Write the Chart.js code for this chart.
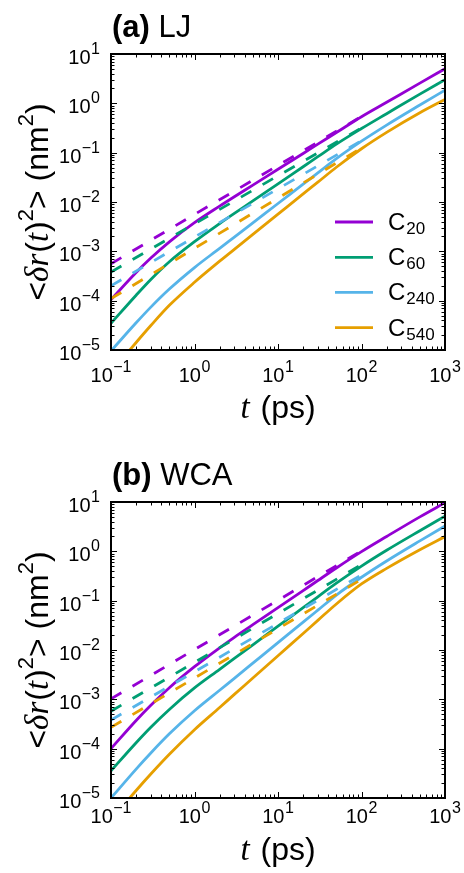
<!DOCTYPE html>
<html>
<head>
<meta charset="utf-8">
<script src="https://cdn.jsdelivr.net/npm/chart.js@4.4.0/dist/chart.umd.min.js"></script>
<style>
  html, body { margin: 0; padding: 0; background: #ffffff; }
  #wrap { position: relative; width: 464px; height: 873px; overflow: hidden; background: #ffffff; }
  canvas { position: absolute; left: 0; }
</style>
</head>
<body>
<div id="wrap">
  <canvas id="panelA" width="464" height="436" style="top:0px"></canvas>
  <canvas id="panelB" width="464" height="437" style="top:436px"></canvas>
</div>
<script>
// Lag times (ps) for the solid MSD curves
const timePs = [0.1, 0.2, 0.3, 0.5, 1, 2, 3, 5, 10, 20, 30, 50, 100, 200, 500, 1000];
// Lag times (ps) for the dashed diffusive lines
const timeDash = [0.1, 1, 10, 120];

// (a) LJ : <dr(t)^2> in nm^2
const ljC20  = [1.05e-4, 3.72e-4, 7.3e-4, 1.56e-3, 3.8e-3, 8.26e-3, 1.28e-2, 2.2e-2, 4.61e-2, 9.64e-2, 0.149, 0.256, 0.535, 1.05, 2.57, 5.01];
const ljC60  = [3.47e-5, 1.29e-4, 2.69e-4, 6.15e-4, 1.57e-3, 3.65e-3, 5.86e-3, 1.05e-2, 2.34e-2, 5.19e-2, 8.28e-2, 0.149, 0.308, 0.617, 1.54, 3.02];
const ljC240 = [9.55e-6, 3.56e-5, 7.4e-5, 1.72e-4, 4.69e-4, 1.15e-3, 1.95e-3, 3.79e-3, 9.33e-3, 2.3e-2, 3.89e-2, 7.57e-2, 0.171, 0.362, 0.923, 1.85];
const ljC540 = [3.55e-6, 1.42e-5, 3.13e-5, 8.05e-5, 2.36e-4, 6.31e-4, 1.1e-3, 2.21e-3, 5.68e-3, 1.46e-2, 2.52e-2, 5.06e-2, 0.12, 0.258, 0.644, 1.2];
const ljDashC20  = [5.6e-4, 5.6e-3, 5.5e-2, 0.65];
const ljDashC60  = [3.8e-4, 3.6e-3, 3.4e-2, 0.38];
const ljDashC240 = [2.0e-4, 1.95e-3, 1.85e-2, 0.21];
const ljDashC540 = [1.1e-4, 1.15e-3, 1.2e-2, 0.15];

// (b) WCA : <dr(t)^2> in nm^2
const wcaC20  = [1.0e-4, 3.73e-4, 7.59e-4, 1.72e-3, 4.59e-3, 1.11e-2, 1.81e-2, 3.26e-2, 7.23e-2, 0.16, 0.256, 0.46, 0.986, 2.0, 5.0, 9.66];
const wcaC60  = [3.55e-5, 1.32e-4, 2.72e-4, 6.24e-4, 1.7e-3, 4.05e-3, 6.73e-3, 1.27e-2, 3.03e-2, 7.19e-2, 0.12, 0.226, 0.502, 1.05, 2.62, 5.16];
const wcaC240 = [1.0e-5, 3.86e-5, 8.18e-5, 2.0e-4, 5.87e-4, 1.53e-3, 2.67e-3, 5.41e-3, 1.41e-2, 3.66e-2, 6.41e-2, 0.13, 0.298, 0.638, 1.63, 3.25];
const wcaC540 = [3.55e-6, 1.42e-5, 3.06e-5, 7.69e-5, 2.42e-4, 6.82e-4, 1.26e-3, 2.7e-3, 7.66e-3, 2.16e-2, 3.98e-2, 8.57e-2, 0.218, 0.452, 1.08, 1.99];
const wcaDashC20  = [1.02e-3, 1.02e-2, 0.102, 1.23];
const wcaDashC60  = [5.75e-4, 5.6e-3, 5.5e-2, 0.645];
const wcaDashC240 = [3.8e-4, 3.63e-3, 3.47e-2, 0.40];
const wcaDashC540 = [2.7e-4, 2.7e-3, 2.7e-2, 0.324];

// Tick decades and labels
const xTickPowers = [-1, 0, 1, 2, 3];
const yTickPowers = [-5, -4, -3, -2, -1, 0, 1];
const seriesBase = 'C';
const seriesSub = ['20', '60', '240', '540'];
const seriesColors = ['#9400d3', '#009e73', '#56b4e9', '#e69f00'];
const panelTags = ['(a)', '(b)'];
const panelNames = ['LJ', 'WCA'];

const SANS = "'Liberation Sans', Arial, Helvetica, sans-serif";
const SERIF = "'Liberation Serif', 'Times New Roman', serif";

function supText(p) { return p < 0 ? '\u2212' + Math.abs(p) : String(p); }

function runsWidth(ctx, runs) {
  let w = 0;
  for (const r of runs) { ctx.font = r.font; w += ctx.measureText(r.text).width + (r.kern || 0); }
  return w;
}
function drawRuns(ctx, runs, x, y) {
  for (const r of runs) {
    ctx.font = r.font;
    ctx.fillText(r.text, x, y + (r.dy || 0));
    x += ctx.measureText(r.text).width + (r.kern || 0);
  }
}
function powerRuns(p) {
  return [
    { text: '10', font: '20px ' + SANS, kern: 0.5 },
    { text: supText(p), font: '16px ' + SANS, dy: -10 }
  ];
}

const decorPlugin = {
  id: 'decor',
  afterDatasetsDraw(chart, args, opts) {
    const { ctx, chartArea: a, scales } = chart;
    const xs = scales.x, ys = scales.y;
    ctx.save();
    ctx.fillStyle = '#000';
    ctx.strokeStyle = '#000';

    // inward ticks on all four sides
    const MAJOR = 6, MINOR = 3.5;
    ctx.lineWidth = 1;
    ctx.beginPath();
    for (let e = xTickPowers[0]; e <= xTickPowers[xTickPowers.length - 1]; e++) {
      for (let m = 1; m < 10; m++) {
        const v = m * Math.pow(10, e);
        if (v > xs.max * 1.0001) break;
        const px = Math.round(xs.getPixelForValue(v)) + 0.5;
        const len = m === 1 ? MAJOR : MINOR;
        ctx.moveTo(px, a.bottom); ctx.lineTo(px, a.bottom - len);
        ctx.moveTo(px, a.top); ctx.lineTo(px, a.top + len);
      }
    }
    for (let e = yTickPowers[0]; e <= yTickPowers[yTickPowers.length - 1]; e++) {
      for (let m = 1; m < 10; m++) {
        const v = m * Math.pow(10, e);
        if (v > ys.max * 1.0001) break;
        const py = Math.round(ys.getPixelForValue(v)) + 0.5;
        const len = m === 1 ? MAJOR : MINOR;
        ctx.moveTo(a.left, py); ctx.lineTo(a.left + len, py);
        ctx.moveTo(a.right, py); ctx.lineTo(a.right - len, py);
      }
    }
    ctx.stroke();

    // frame
    ctx.lineWidth = 2;
    ctx.strokeRect(a.left, a.top, a.right - a.left, a.bottom - a.top);

    // tick labels
    ctx.textBaseline = 'alphabetic';
    ctx.textAlign = 'left';
    for (const p of xTickPowers) {
      const runs = powerRuns(p);
      const w = runsWidth(ctx, runs);
      const px = xs.getPixelForValue(Math.pow(10, p));
      drawRuns(ctx, runs, px - w / 2, a.bottom + opts.xTickGap);
    }
    for (const p of yTickPowers) {
      const runs = powerRuns(p);
      const w = runsWidth(ctx, runs);
      const py = ys.getPixelForValue(Math.pow(10, p));
      drawRuns(ctx, runs, a.left - 11 - w, py + 10);
    }

    // x-axis title
    const xt = [
      { text: 't', font: 'italic 33px ' + SERIF, kern: 2 },
      { text: ' (ps)', font: '32px ' + SANS }
    ];
    const xw = runsWidth(ctx, xt);
    drawRuns(ctx, xt, (a.left + a.right) / 2 - xw / 2, a.bottom + opts.xTitleGap);

    // y-axis title (rotated)
    const yt = [
      { text: '<', font: '32px ' + SANS },
      { text: '\u03b4r', font: 'italic 33px ' + SERIF, kern: 1 },
      { text: '(', font: '32px ' + SANS },
      { text: 't', font: 'italic 33px ' + SERIF, kern: 1 },
      { text: ')', font: '32px ' + SANS },
      { text: '2', font: '22px ' + SANS, dy: -15 },
      { text: '>', font: '32px ' + SANS },
      { text: ' (nm', font: '32px ' + SANS },
      { text: '2', font: '22px ' + SANS, dy: -15 },
      { text: ')', font: '32px ' + SANS }
    ];
    const yw = runsWidth(ctx, yt);
    ctx.save();
    ctx.translate(48, (a.top + a.bottom) / 2);
    ctx.rotate(-Math.PI / 2);
    drawRuns(ctx, yt, -yw / 2, 0);
    ctx.restore();

    // panel title
    drawRuns(ctx, [
      { text: opts.tag, font: 'bold 31px ' + SANS },
      { text: ' ' + opts.name, font: '31px ' + SANS }
    ], a.left + 1, a.top - 17);

    // legend
    if (opts.legend) {
      const rowsFromBottom = [128, 92.7, 57.7, 22.3];
      seriesSub.forEach((sub, i) => {
        const ry = a.bottom - rowsFromBottom[i];
        ctx.strokeStyle = seriesColors[i];
        ctx.lineWidth = 2.8;
        ctx.beginPath();
        ctx.moveTo(335, ry); ctx.lineTo(373, ry);
        ctx.stroke();
        drawRuns(ctx, [
          { text: seriesBase, font: '24px ' + SANS, kern: 1 },
          { text: sub, font: '17px ' + SANS, dy: 4 }
        ], 388, ry + 8);
      });
    }
    ctx.restore();
  }
};

function buildPanel(canvasId, solids, dashes, pad, decor) {
  const datasets = [];
  seriesColors.forEach((c, i) => {
    datasets.push({
      data: timeDash.map((t, k) => ({ x: t, y: dashes[i][k] })),
      borderColor: c, borderWidth: 2.8, borderDash: [12, 13], borderCapStyle: 'butt',
      pointRadius: 0, tension: 0, fill: false, order: 0, clip: 0
    });
  });
  seriesColors.forEach((c, i) => {
    datasets.push({
      data: timePs.map((t, k) => ({ x: t, y: solids[i][k] })),
      borderColor: c, borderWidth: 2.8, borderJoinStyle: 'round',
      pointRadius: 0, cubicInterpolationMode: 'monotone', fill: false, order: 1, clip: 0
    });
  });
  return new Chart(document.getElementById(canvasId), {
    type: 'line',
    data: { datasets },
    options: {
      responsive: false,
      animation: false,
      events: [],
      devicePixelRatio: 1,
      layout: { padding: pad },
      plugins: { legend: { display: false }, tooltip: { enabled: false }, decor },
      scales: {
        x: { type: 'logarithmic', min: 0.1, max: 1000, display: false },
        y: { type: 'logarithmic', min: 1e-5, max: 10, display: false }
      }
    },
    plugins: [decorPlugin]
  });
}

buildPanel('panelA',
  [ljC20, ljC60, ljC240, ljC540],
  [ljDashC20, ljDashC60, ljDashC240, ljDashC540],
  { left: 111, right: 19, top: 54, bottom: 86 },
  { tag: panelTags[0], name: panelNames[0], legend: true, xTickGap: 32, xTitleGap: 68 });

buildPanel('panelB',
  [wcaC20, wcaC60, wcaC240, wcaC540],
  [wcaDashC20, wcaDashC60, wcaDashC240, wcaDashC540],
  { left: 111, right: 19, top: 66, bottom: 75 },
  { tag: panelTags[1], name: panelNames[1], legend: false, xTickGap: 25, xTitleGap: 62 });
</script>
</body>
</html>
